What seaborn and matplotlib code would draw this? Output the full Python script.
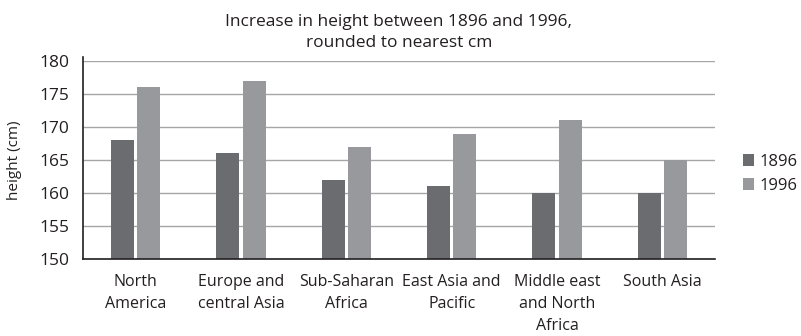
import matplotlib
matplotlib.use("Agg")
import matplotlib.pyplot as plt
import seaborn as sns
import pandas as pd

regions = ["North\nAmerica", "Europe and\ncentral Asia", "Sub-Saharan\nAfrica",
           "East Asia and\nPacific", "Middle east\nand North\nAfrica", "South Asia"]
height_1896 = [168, 166, 162, 161, 160, 160]
height_1996 = [176, 177, 167, 169, 171, 165]
years = ["1896", "1996"]
colors = ["#6b6c70", "#98999c"]

df = pd.DataFrame({
    "region": regions * 2,
    "height": height_1896 + height_1996,
    "year": [years[0]] * len(regions) + [years[1]] * len(regions),
})

sns.set_style("white")
plt.rcParams["font.family"] = ["Open Sans", "DejaVu Sans"]
plt.rcParams["text.color"] = "#231f20"

fig = plt.figure(figsize=(8.01, 3.36), dpi=100)
ax = fig.add_axes([0.1036, 0.229, 0.789, 0.5895])

sns.barplot(data=df, x="region", y="height", hue="year", palette=colors,
            width=0.5, gap=0.13, ax=ax, saturation=1, linewidth=0, legend=True)

ax.set_ylim(150, 180)
ax.set_yticks(range(150, 181, 5))
ax.yaxis.grid(True, color="#a6a6a6", linewidth=1.0)
ax.set_axisbelow(True)
for s in ["top", "right"]:
    ax.spines[s].set_visible(False)
ax.spines["left"].set_color("#231f20")
ax.spines["bottom"].set_color("#231f20")
ax.spines["left"].set_linewidth(1.2)
ax.spines["bottom"].set_linewidth(1.2)
ax.spines["left"].set_bounds(150, 180.6)
ax.set_xlim(-0.5, len(regions) - 0.5)

ax.tick_params(axis="both", length=0, colors="#231f20")
ax.tick_params(axis="x", pad=11, labelsize=11.5)
ax.tick_params(axis="y", pad=10, labelsize=12.5)
for lbl in ax.get_xticklabels():
    lbl.set_linespacing(1.5)
    lbl.set_verticalalignment("top")
ax.set_xlabel("")
ax.set_ylabel("height (cm)", fontsize=11, color="#231f20", labelpad=12)

ax.set_title("Increase in height between 1896 and 1996,\nrounded to nearest cm",
             fontsize=12.5, color="#231f20", linespacing=1.45, pad=10)

leg = ax.legend(title=None, loc="center left", bbox_to_anchor=(1.02, 0.43),
                frameon=False, fontsize=12, handlelength=0.7, handleheight=0.7,
                handletextpad=0.3, labelspacing=0.45)

fig.savefig("out.png", dpi=100)
